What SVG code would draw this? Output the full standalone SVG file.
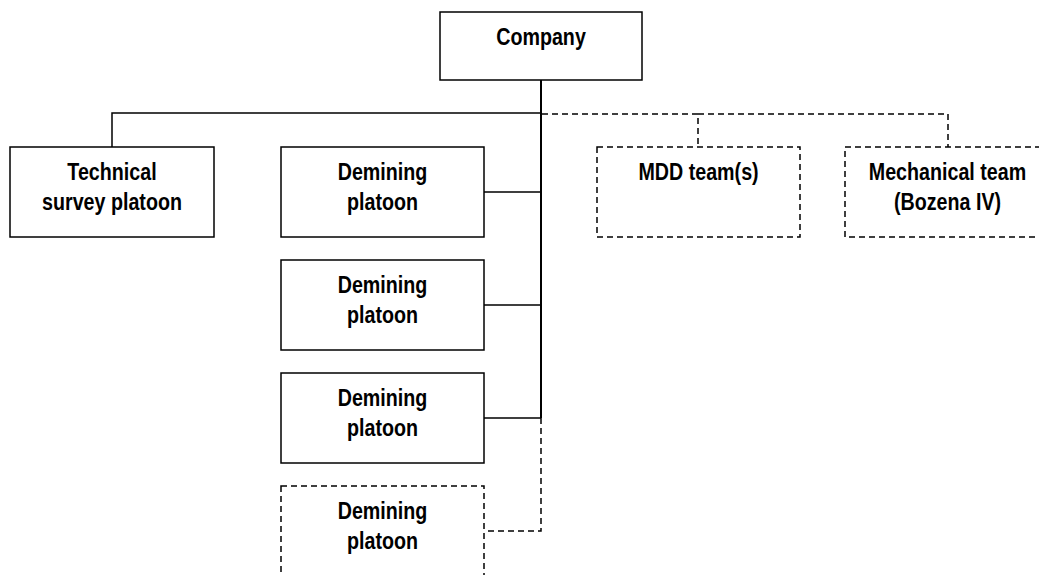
<svg xmlns="http://www.w3.org/2000/svg" width="1039" height="575" viewBox="0 0 1039 575">
<style>
.box{fill:#fff;stroke:#000;stroke-width:1.5}
.opt{fill:#fff;stroke:#000;stroke-width:1.5;stroke-dasharray:6 4}
.ln{fill:none;stroke:#000;stroke-width:1.5}
.trunk{fill:none;stroke:#000;stroke-width:2}
.dl{fill:none;stroke:#000;stroke-width:1.5;stroke-dasharray:6 4}
text{font-family:"Liberation Sans",Arial,sans-serif;font-weight:bold;font-size:24px;text-anchor:middle;fill:#000}
</style>
<rect width="1039" height="575" fill="#fff"/>
<g id="connectors">
<path class="trunk" d="M541 80V418"/>
<path class="ln" d="M112 147V113H541"/>
<path class="ln" d="M484 192H541M484 305H541M484 418H541"/>
<path class="dl" d="M542 114H698V147M698 114H948V147"/>
<path class="dl" d="M541 418V531H485"/>
</g>
<g id="company">
<rect class="box" x="440" y="12" width="202" height="68"/>
<text transform="translate(541 45) scale(0.82 1)">Company</text>
</g>
<g id="technical">
<rect class="box" x="10" y="147" width="204" height="90"/>
<text transform="translate(112 180) scale(0.82 1)">Technical</text>
<text transform="translate(112 209.5) scale(0.82 1)">survey platoon</text>
</g>
<g id="demining1">
<rect class="box" x="281" y="147" width="203" height="90"/>
<text transform="translate(382.5 180) scale(0.82 1)">Demining</text>
<text transform="translate(382.5 209.5) scale(0.82 1)">platoon</text>
</g>
<g id="demining2">
<rect class="box" x="281" y="260" width="203" height="90"/>
<text transform="translate(382.5 293) scale(0.82 1)">Demining</text>
<text transform="translate(382.5 322.5) scale(0.82 1)">platoon</text>
</g>
<g id="demining3">
<rect class="box" x="281" y="373" width="203" height="90"/>
<text transform="translate(382.5 406) scale(0.82 1)">Demining</text>
<text transform="translate(382.5 435.5) scale(0.82 1)">platoon</text>
</g>
<g id="demining4">
<rect class="opt" x="281" y="486" width="203" height="90"/>
<text transform="translate(382.5 519) scale(0.82 1)">Demining</text>
<text transform="translate(382.5 548.5) scale(0.82 1)">platoon</text>
</g>
<g id="mdd">
<rect class="opt" x="597" y="147" width="203" height="90"/>
<text transform="translate(698.5 180) scale(0.82 1)">MDD team(s)</text>
</g>
<g id="mechanical">
<rect class="opt" x="845" y="147" width="205" height="90"/>
<text transform="translate(947.5 180) scale(0.82 1)">Mechanical team</text>
<text transform="translate(947.5 209.5) scale(0.82 1)">(Bozena IV)</text>
</g>
</svg>
